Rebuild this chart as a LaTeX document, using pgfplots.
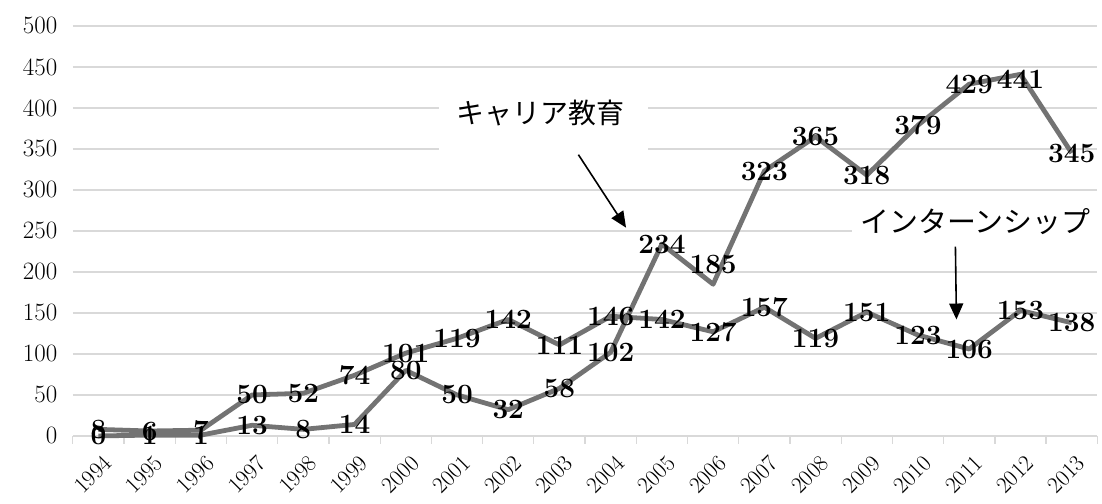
\documentclass[border=0pt]{standalone}
\usepackage{pgfplots}
\pgfplotsset{compat=1.18}
\usepackage{pgfplotstable}
\usepackage{fontspec}
\usetikzlibrary{arrows.meta}
\newfontfamily\jp{Noto Sans CJK JP}
\definecolor{serie}{RGB}{115,115,115}
\definecolor{gridc}{RGB}{217,217,217}

\pgfplotstableread{
x y dy
0 0 0
1 1 0
2 1 0
3 13 0
4 8 0
5 14 0
6 80 0
7 50 0
8 32 0
9 58 0
10 102 0
11 234 0
12 185 20
13 323 0
14 365 0
15 318 0
16 379 0
17 429 0
18 441 -5
19 345 0
}\career

\pgfplotstableread{
x y dy
0 8 0
1 6 0
2 7 0
3 50 0
4 52 0
5 74 0
6 101 0
7 119 0
8 142 0
9 111 0
10 146 0
11 142 0
12 127 0
13 157 0
14 119 0
15 151 0
16 123 0
17 106 0
18 153 0
19 138 0
}\intern

\begin{document}
\begin{tikzpicture}
\path (-73pt,-68pt) rectangle (1029pt,437pt);
\begin{axis}[
  at={(0pt,0pt)}, anchor=south west,
  scale only axis,
  width=1027pt, height=411pt,
  xmin=-0.5, xmax=19.5,
  ymin=0, ymax=500,
  ytick={0,50,...,500},
  xtick={0,...,19},
  xticklabels={1994,1995,1996,1997,1998,1999,2000,2001,2002,2003,2004,2005,2006,2007,2008,2009,2010,2011,2012,2013},
  /pgf/number format/assume math mode=true,
  xticklabel style={xshift=4pt, yshift=-18pt, rotate=45, anchor=north east, inner sep=0pt, font=\fontsize{23}{27}\selectfont},
  yticklabel style={font=\fontsize{25}{29}\selectfont, xshift=-12pt},
  major tick length=0pt,
  ytick style={draw=none},
  xtick style={draw=none},
  extra x ticks={-0.5,0.5,...,19.5},
  extra x tick labels={},
  extra x tick style={grid=none, major tick length=8pt, tick align=outside, xtick style={draw=gridc, line width=1.3pt}},
  axis x line*=bottom,
  axis y line*=left,
  x axis line style={draw=gridc, line width=1.3pt, -},
  y axis line style={draw=none},
  ymajorgrids,
  grid style={gridc, line width=1.3pt},
  tick label style={/pgf/number format/1000 sep={}},
  clip=false,
]
% white boxes behind annotation labels
\fill[white] (axis cs:6.64,330) rectangle (axis cs:10.73,420);
\fill[white] (axis cs:14.72,215) rectangle (axis cs:19.49,290);

\addplot[serie, line width=4.8pt, line join=round, mark=none] table[x=x,y=y]{\career};
\addplot[serie, line width=4.8pt, line join=round, mark=none] table[x=x,y=y]{\intern};

\addplot[draw=none, mark=none, nodes near coords, point meta=explicit symbolic,
  visualization depends on={\thisrow{dy} \as \dy},
  every node near coord/.append style={anchor=center, yshift=\dy pt, inner sep=0pt, font=\fontsize{28}{32}\selectfont\bfseries}]
  table[x=x,y=y,meta=y]{\career};
\addplot[draw=none, mark=none, nodes near coords, point meta=explicit symbolic,
  visualization depends on={\thisrow{dy} \as \dy},
  every node near coord/.append style={anchor=center, yshift=\dy pt, inner sep=0pt, font=\fontsize{28}{32}\selectfont\bfseries}]
  table[x=x,y=y,meta=y]{\intern};

\node[font=\jp\fontsize{28}{32}\selectfont] at (axis cs:8.63,394) {キャリア教育};
\node[font=\jp\fontsize{29}{33}\selectfont] at (axis cs:17.12,261) {インターンシップ};
\draw[line width=1.6pt, -{Triangle[length=16pt,width=14pt]}] (axis cs:9.37,343) -- (axis cs:10.30,254);
\draw[line width=1.6pt, -{Triangle[length=16pt,width=14pt]}] (axis cs:16.73,231) -- (axis cs:16.75,142);
\end{axis}
\end{tikzpicture}
\end{document}
